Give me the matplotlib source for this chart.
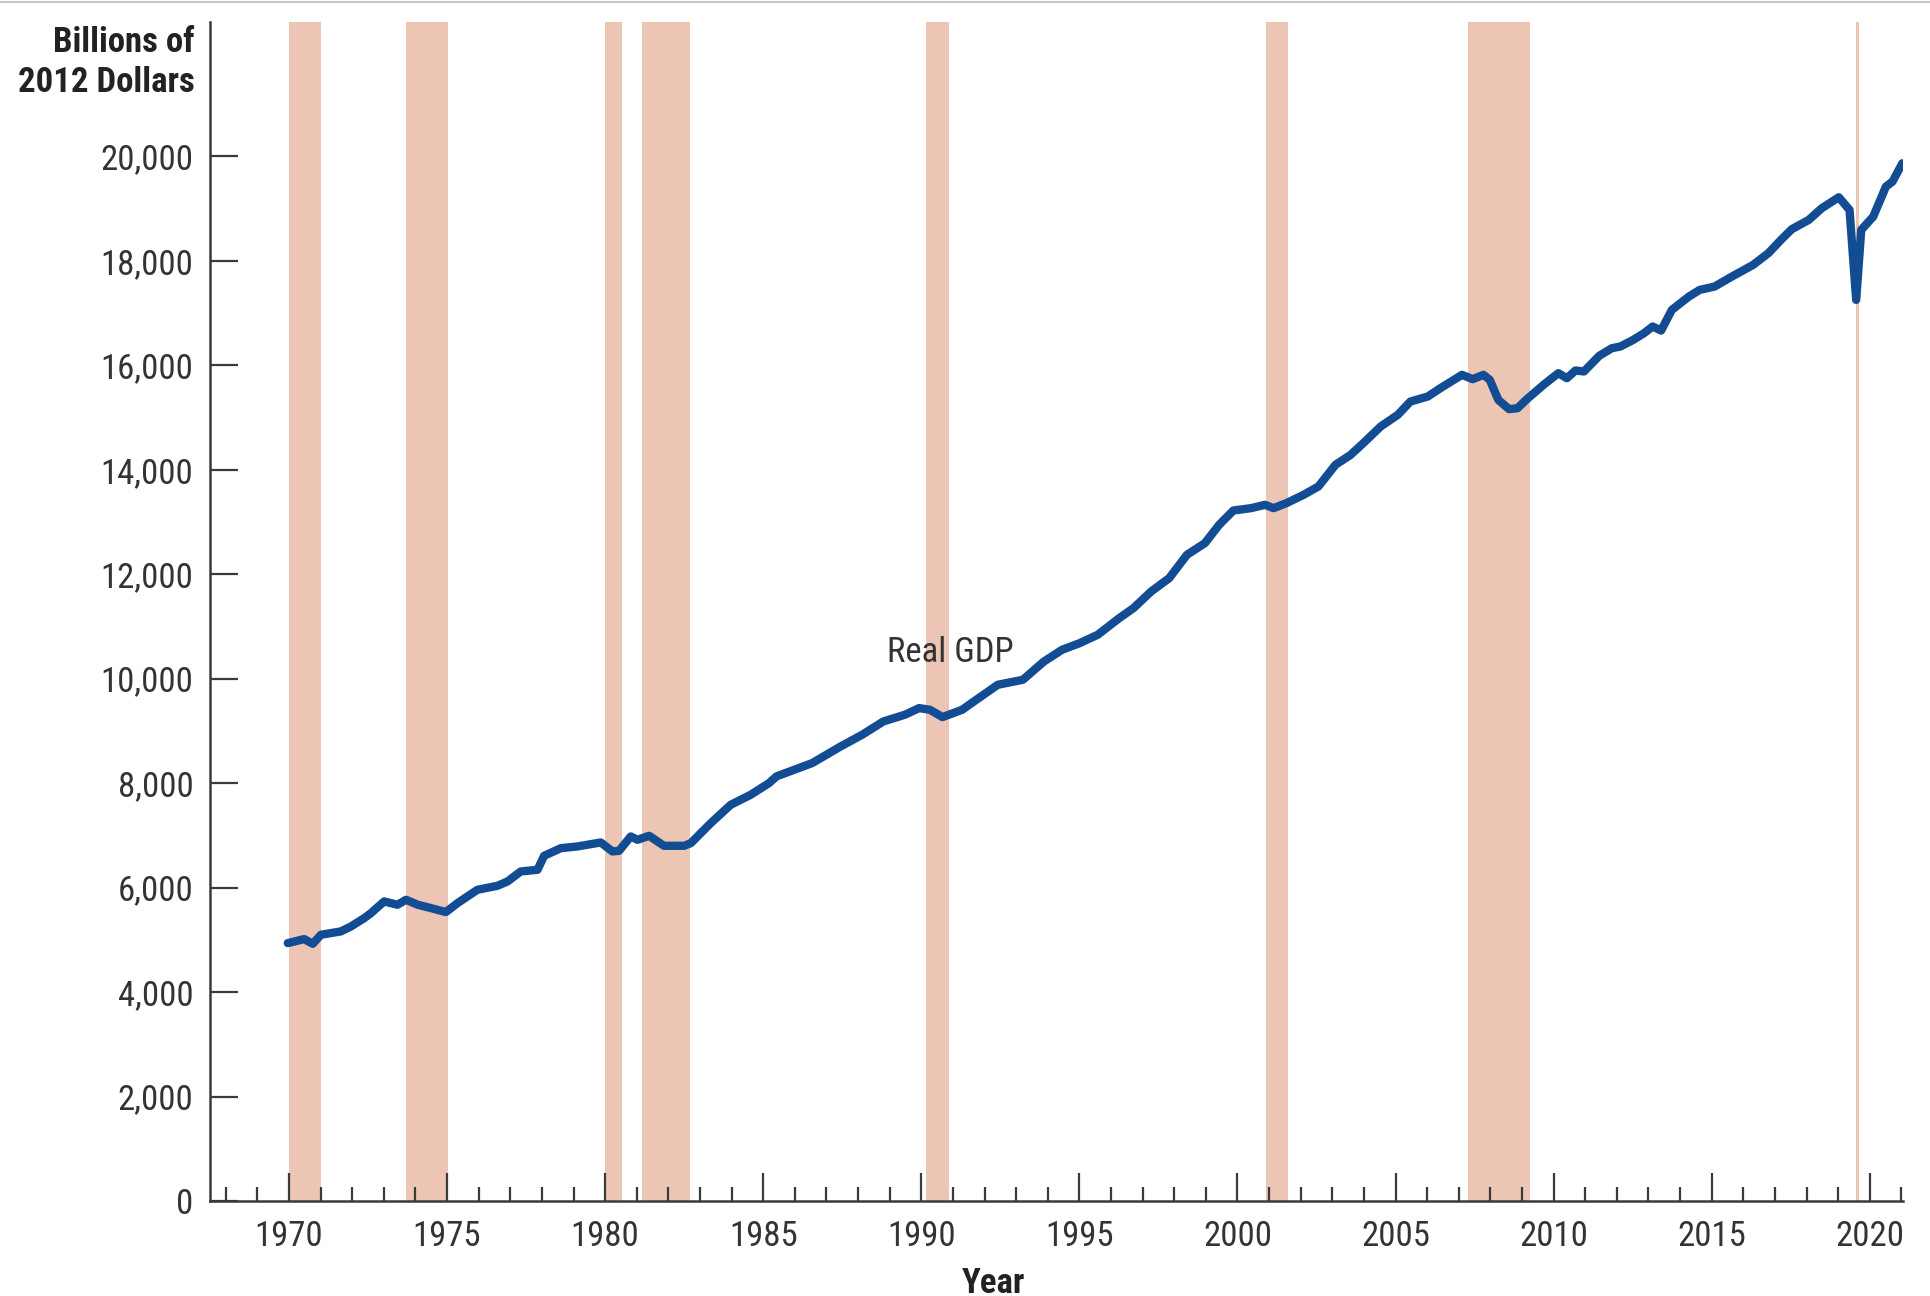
import matplotlib
matplotlib.use("Agg")
import matplotlib.pyplot as plt
from matplotlib.lines import Line2D
from matplotlib.ticker import FuncFormatter, MultipleLocator

# ---- data ----
years = [1969.96, 1970.48, 1970.75, 1971.01, 1971.64, 1971.96, 1972.38, 1972.59,
         1973.01, 1973.43, 1973.70, 1974.07, 1974.49, 1974.96, 1975.33, 1975.96,
         1976.59, 1976.91, 1977.33, 1977.86, 1978.07, 1978.60, 1979.12, 1979.86,
         1980.23, 1980.44, 1980.81, 1981.02, 1981.39, 1981.86, 1982.50, 1982.71,
         1983.34, 1983.97, 1984.60, 1985.18, 1985.42, 1986.55, 1987.45, 1988.13,
         1988.80, 1989.48, 1989.93, 1990.27, 1990.67, 1991.29, 1991.74, 1992.42,
         1993.21, 1993.88, 1994.45, 1995.01, 1995.58, 1996.26, 1996.71, 1997.27,
         1997.84, 1998.40, 1998.97, 1999.42, 1999.87, 2000.43, 2000.87, 2001.14,
         2001.55, 2002.09, 2002.56, 2003.10, 2003.58, 2003.98, 2004.53, 2005.07,
         2005.47, 2006.02, 2006.42, 2007.10, 2007.44, 2007.78, 2007.98, 2008.25,
         2008.59, 2008.86, 2009.13, 2009.68, 2010.15, 2010.42, 2010.69, 2010.96,
         2011.44, 2011.84, 2012.11, 2012.52, 2012.86, 2013.13, 2013.40, 2013.74,
         2014.28, 2014.62, 2015.09, 2015.64, 2016.31, 2016.79, 2017.19, 2017.53,
         2018.07, 2018.48, 2019.02, 2019.36, 2019.57, 2019.73, 2020.11, 2020.51,
         2020.72, 2021.03]
real_gdp = [4937, 5014, 4924, 5097, 5161, 5256, 5416, 5511,
            5735, 5671, 5767, 5671, 5607, 5531, 5703, 5958,
            6034, 6117, 6309, 6341, 6609, 6755, 6787, 6864,
            6692, 6704, 6979, 6915, 6991, 6800, 6800, 6851,
            7234, 7585, 7776, 7999, 8129, 8384, 8703, 8926,
            9181, 9309, 9436, 9404, 9264, 9404, 9596, 9883,
            9978, 10329, 10552, 10680, 10840, 11158, 11350, 11669,
            11924, 12370, 12594, 12945, 13219, 13264, 13328, 13264,
            13360, 13519, 13679, 14094, 14285, 14508, 14827, 15050,
            15305, 15401, 15561, 15816, 15733, 15816, 15720, 15337,
            15159, 15178, 15337, 15624, 15848, 15752, 15899, 15880,
            16179, 16326, 16358, 16486, 16613, 16741, 16664, 17060,
            17315, 17442, 17506, 17698, 17921, 18144, 18399, 18603,
            18782, 19005, 19216, 18973, 17251, 18591, 18846, 19420,
            19516, 19866]

recession_start = [1970.00, 1973.70, 1980.00, 1981.17, 1990.16, 2000.89, 2007.28, 2019.56]
recession_end = [1971.01, 1975.02, 1980.54, 1982.68, 1990.89, 2001.60, 2009.26, 2019.66]

y_ticks = [0, 2000, 4000, 6000, 8000, 10000, 12000, 14000, 16000, 18000, 20000]
x_major = [1970, 1975, 1980, 1985, 1990, 1995, 2000, 2005, 2010, 2015, 2020]

y_title = ["Billions of", "2012 Dollars"]
x_title = "Year"
series_label = "Real GDP"

# ---- style ----
import logging
logging.getLogger("matplotlib.font_manager").setLevel(logging.ERROR)
FONT = ["Roboto Condensed", "Archivo Narrow", "IBM Plex Sans Condensed", "DejaVu Sans"]
plt.rcParams["font.family"] = FONT
LINE_COLOR = "#124c93"
BAR_COLOR = "#ecc5b4"
AX_COLOR = "#3a3a3a"
TXT_COLOR = "#333333"
FS = 25

fig = plt.figure(figsize=(19.3, 12.96), dpi=100)
ax = fig.add_axes([0.1088, 0.0733, 0.986 - 0.1088, 0.983 - 0.0733])

for s, e in zip(recession_start, recession_end):
    ax.axvspan(s, e, color=BAR_COLOR, lw=0, zorder=1)

ax.plot(years, real_gdp, color=LINE_COLOR, lw=6, solid_joinstyle="round",
        solid_capstyle="round", zorder=3)

ax.set_xlim(1967.5, 2021.05)
ax.set_ylim(0, 22570)

for sp in ["top", "right"]:
    ax.spines[sp].set_visible(False)
for sp in ["left", "bottom"]:
    ax.spines[sp].set_color(AX_COLOR)
    ax.spines[sp].set_linewidth(1.8)

ax.set_yticks(y_ticks)
ax.yaxis.set_major_formatter(FuncFormatter(lambda v, p: f"{int(v):,}"))
ax.set_xticks(x_major)
ax.xaxis.set_minor_locator(MultipleLocator(1))

ax.tick_params(axis="y", direction="in", length=20, width=1.6, color=AX_COLOR,
               labelsize=FS, labelcolor=TXT_COLOR, pad=12)
ax.tick_params(axis="x", which="major", direction="in", length=20, width=1.6,
               color=AX_COLOR, labelsize=FS, labelcolor=TXT_COLOR, pad=14)
ax.tick_params(axis="x", which="minor", direction="in", length=10, width=1.6,
               color=AX_COLOR)

ax.text(1990.93, 10506, series_label, fontsize=FS, color=TXT_COLOR,
        ha="center", va="center", zorder=4)

fig.text(0.101, 0.967, y_title[0], fontsize=FS, fontweight="bold",
         color="#222222", ha="right", va="center")
fig.text(0.101, 0.936, y_title[1], fontsize=FS, fontweight="bold",
         color="#222222", ha="right", va="center")
fig.text(0.515, 0.010, x_title, fontsize=FS, fontweight="bold",
         color="#222222", ha="center", va="center")

fig.add_artist(Line2D([0, 1], [0.9985, 0.9985], color="#c8c8c8", lw=1.5,
                      transform=fig.transFigure))

fig.savefig("out.png", dpi=100, facecolor="white")
